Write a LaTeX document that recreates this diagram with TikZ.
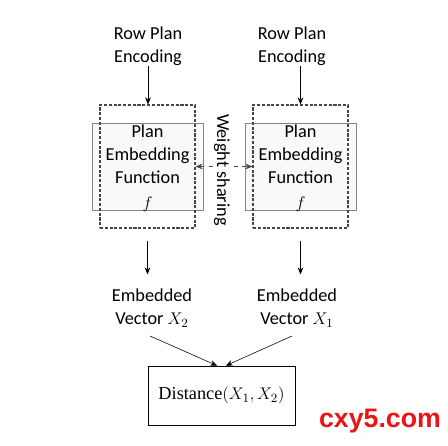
\documentclass[tikz,border=0pt]{standalone}
\usepackage{fontspec}
\setmainfont{Carlito}
\newfontfamily\markfont{Liberation Sans}
\newfontfamily\distfont{Liberation Serif}
\usepackage{tikz}
\usetikzlibrary{arrows.meta, positioning}
\definecolor{boxgray}{RGB}{140,130,130}
\definecolor{dashgray}{RGB}{70,70,70}
\definecolor{markred}{RGB}{235,20,20}

\begin{document}
\begin{tikzpicture}[
  x=0.025cm, y=0.025cm,
  >={Stealth[length=5pt,width=4pt]},
  every node/.style={font=\fontsize{13}{16.5}\selectfont},
  label/.style={align=center, inner sep=0pt},
  outerbox/.style={draw=dashgray, line width=0.8pt, dash pattern=on 2.2pt off 1.2pt,
                   minimum width=2.375cm, minimum height=3.075cm},
  funcbox/.style={draw=boxgray, fill=gray!6, fill opacity=0.8, text opacity=1,
                  minimum width=2.775cm, minimum height=2.175cm,
                  align=center, inner sep=0pt},
  arrow/.style={->, thin}
]
\useasboundingbox (0,0) rectangle (448,446);

%% ── INPUTS (top) ─────────────────────────────────────────────
\node[label] (encL) at (148,400) {Row Plan\\Encoding};
\node[label] (encR) at (292,400) {Row Plan\\Encoding};

%% ── SHARED FUNCTIONS ─────────────────────────────────────────
\node[funcbox] (funcL) at (147.5,279.5) {};
\node[outerbox] (outL) at (147.5,279.5) {};
\node[label, align=center] at (147.5,278)
  {Plan\\Embedding\\Function\\[1pt] $f$};

\node[funcbox] (funcR) at (300.5,279.5) {};
\node[outerbox] (outR) at (300.5,279.5) {};
\node[label, align=center] at (300.5,278)
  {Plan\\Embedding\\Function\\[1pt] $f$};

\draw[<->, dashed, dashgray] (outL.east) -- (outR.west);
\node[fill=white, rotate=-90, inner sep=1pt] (share) at (222,276)
  {Weight sharing};

\draw[arrow] (encL.south) -- (encL.south |- outL.north);
\draw[arrow] (outR.north |- encR.south) -- (outR.north);

%% ── OUTPUTS ──────────────────────────────────────────────────
\node[label] (vecL) at (152,138) {Embedded\\Vector $X_2$};
\node[label] (vecR) at (297,138) {Embedded\\Vector $X_1$};

\draw[arrow, shorten <=8.5pt, shorten >=10pt] (outL.south) -- (outL.south |- vecL.north);
\draw[arrow, shorten <=8.5pt, shorten >=10pt] (outR.south) -- (outR.south |- vecR.north);

%% ── DISTANCE ─────────────────────────────────────────────────
\node[draw, minimum width=3.675cm, minimum height=1.475cm,
      font=\distfont\fontsize{13}{16}\selectfont] (dist) at (221.5,50.5)
  {Distance$(X_1,X_2)$};

\coordinate (fromL) at (150,110);
\coordinate (fromR) at (292,110);
\draw[arrow] (fromL) -- ([xshift=-3]dist.north);
\draw[arrow] (fromR) -- ([xshift=3]dist.north);

%% watermark
\node[markred, font=\markfont\bfseries\fontsize{19}{20}\selectfont] (mark)
  at (380,25) {cxy5.com};

\end{tikzpicture}
\end{document}
